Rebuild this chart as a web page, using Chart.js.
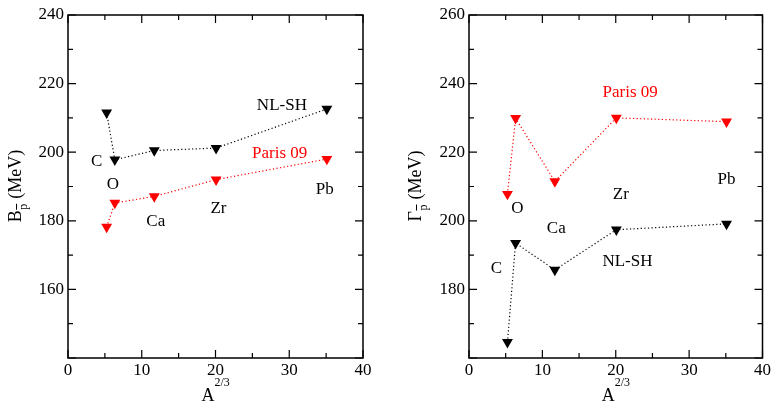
<!DOCTYPE html>
<html>
<head>
<meta charset="utf-8">
<script src="https://cdn.jsdelivr.net/npm/chart.js@4"></script>
<style>
  body { margin: 0; background: #fff; }
  .wrap { position: absolute; top: 0; height: 402px; }
</style>
</head>
<body>
<div class="wrap" style="left:0;width:386px"><canvas id="chartB"></canvas></div>
<div class="wrap" style="left:386px;width:387px"><canvas id="chartG"></canvas></div>
<script>
// nuclei and A^(2/3)
var nuclei = ['C', 'O', 'Ca', 'Zr', 'Pb'];
var xA23 = [5.24, 6.35, 11.70, 20.08, 35.10];

// binding energies B (MeV)
var bindNLSH = [211.5, 197.8, 200.5, 201.2, 212.6];
var bindParis = [178.2, 185.2, 187.1, 192.0, 198.0];

// widths Gamma (MeV)
var widthNLSH = [164.6, 193.5, 185.7, 197.4, 199.1];
var widthParis = [207.8, 229.9, 211.5, 230.0, 228.9];

// text labels placed in data units
var labelsB = [
    { t: 'C', x: 3.9, y: 197.3 }, { t: 'O', x: 6.1, y: 190.7 }, { t: 'Ca', x: 11.9, y: 179.7 },
    { t: 'Zr', x: 20.4, y: 183.6 }, { t: 'Pb', x: 34.8, y: 189.0 },
    { t: 'NL-SH', x: 29.0, y: 213.5 }, { t: 'Paris 09', x: 28.7, y: 199.7, red: true }
];
var labelsG = [
    { t: 'C', x: 3.75, y: 186.2 }, { t: 'O', x: 6.6, y: 203.7 }, { t: 'Ca', x: 11.9, y: 197.7 },
    { t: 'Zr', x: 20.7, y: 207.8 }, { t: 'Pb', x: 35.1, y: 211.9 },
    { t: 'NL-SH', x: 21.6, y: 188.2 }, { t: 'Paris 09', x: 21.96, y: 237.4, red: true }
];

var FONT = '"Liberation Serif", "DejaVu Serif", serif';
var RED = '#ff0000';

function points(ys) {
    return xA23.map(function(x, i) { return { x: x, y: ys[i] }; });
}

function series(ys, color) {
    return {
        data: points(ys),
        borderColor: color,
        backgroundColor: color,
        borderWidth: 1.2,
        borderDash: [1.2, 2.4],
        pointStyle: 'triangle',
        rotation: 180,
        pointRadius: 6.3,
        pointBorderWidth: 0,
        showLine: true,
        tension: 0
    };
}

// frame with inward ticks, text labels and axis titles
function framePlugin(opts) {
    return {
        id: 'frame',
        afterDraw: function(chart) {
            var ctx = chart.ctx, a = chart.chartArea;
            var xs = chart.scales.x, ys = chart.scales.y;
            ctx.save();
            ctx.strokeStyle = '#000';
            ctx.lineWidth = 1.5;
            ctx.strokeRect(a.left, a.top, a.right - a.left, a.bottom - a.top);
            ctx.lineWidth = 1.2;
            ctx.beginPath();
            for (var v = xs.min; v <= xs.max; v += 5) {
                var px = xs.getPixelForValue(v), len = (v % 10 === 0) ? 8 : 5;
                ctx.moveTo(px, a.bottom); ctx.lineTo(px, a.bottom - len);
                ctx.moveTo(px, a.top); ctx.lineTo(px, a.top + len);
            }
            for (var w = ys.min; w <= ys.max; w += 10) {
                var py = ys.getPixelForValue(w), l2 = (w % 20 === 0) ? 8 : 5;
                ctx.moveTo(a.left, py); ctx.lineTo(a.left + l2, py);
                ctx.moveTo(a.right, py); ctx.lineTo(a.right - l2, py);
            }
            ctx.stroke();

            // labels
            ctx.font = '17px ' + FONT;
            ctx.textAlign = 'center';
            ctx.textBaseline = 'middle';
            opts.labels.forEach(function(lb) {
                ctx.fillStyle = lb.red ? RED : '#000';
                ctx.fillText(lb.t, xs.getPixelForValue(lb.x), ys.getPixelForValue(lb.y));
            });

            // x title A^{2/3}
            var cx = (a.left + a.right) / 2;
            ctx.fillStyle = '#000';
            ctx.textBaseline = 'alphabetic';
            ctx.textAlign = 'left';
            ctx.font = '18px ' + FONT;
            ctx.fillText('A', cx - 14, 401);
            ctx.font = '12px ' + FONT;
            ctx.fillText('2/3', cx - 1, 386);

            // y title with subscript p-bar
            ctx.translate(opts.titleX, (a.top + a.bottom) / 2);
            ctx.rotate(-Math.PI / 2);
            ctx.font = '18px ' + FONT;
            var main = opts.symbol, rest = ' (MeV)';
            var w1 = ctx.measureText(main).width;
            ctx.font = '12px ' + FONT;
            var w2 = ctx.measureText('p').width;
            ctx.font = '18px ' + FONT;
            var w3 = ctx.measureText(rest).width;
            var x0 = -(w1 + w2 + w3) / 2;
            ctx.fillText(main, x0, 5);
            ctx.font = '12px ' + FONT;
            ctx.fillText('p', x0 + w1 + 0.5, 11);
            ctx.fillRect(x0 + w1 + 0.5, 0, w2, 1);
            ctx.font = '18px ' + FONT;
            ctx.fillText(rest, x0 + w1 + w2 + 1, 5);
            ctx.restore();
        }
    };
}

function makeChart(id, nlsh, paris, yMin, yMax, yWidth, padRight, opts) {
    return new Chart(document.getElementById(id), {
        type: 'scatter',
        data: { datasets: [series(nlsh, '#000'), series(paris, RED)] },
        options: {
            responsive: true,
            maintainAspectRatio: false,
            animation: false,
            layout: { padding: { top: 15, right: padRight, bottom: 0, left: 0 } },
            plugins: { legend: { display: false }, tooltip: { enabled: false } },
            scales: {
                x: {
                    type: 'linear', min: 0, max: 40,
                    grid: { display: false, drawTicks: false },
                    border: { display: false },
                    ticks: { stepSize: 10, color: '#000', padding: 2, font: { family: FONT, size: 17 } },
                    afterFit: function(s) { s.height = 44; }
                },
                y: {
                    type: 'linear', min: yMin, max: yMax,
                    grid: { display: false, drawTicks: false },
                    border: { display: false },
                    ticks: {
                        stepSize: 20, color: '#000', padding: 4, font: { family: FONT, size: 17 },
                        callback: function(v) { return v === yMin ? '' : v; }
                    },
                    afterFit: function(s) { s.width = yWidth; }
                }
            }
        },
        plugins: [framePlugin(opts)]
    });
}

makeChart('chartB', bindNLSH, bindParis, 140, 240, 68, 23, { labels: labelsB, symbol: 'B', titleX: 16 });
makeChart('chartG', widthNLSH, widthParis, 160, 260, 83, 10, { labels: labelsG, symbol: 'Γ', titleX: 30 });
</script>
</body>
</html>
